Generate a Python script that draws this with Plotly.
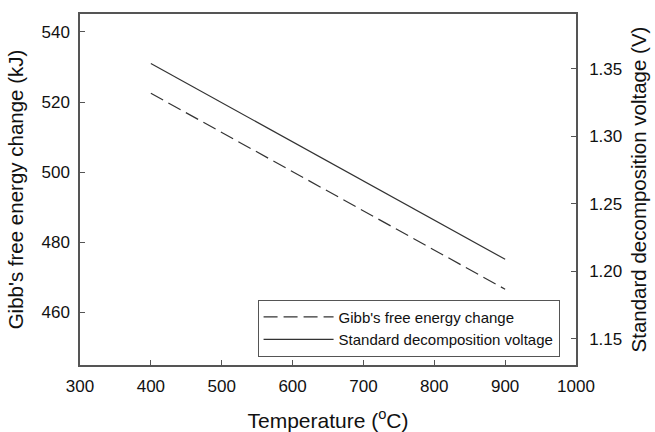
import plotly.graph_objects as go

temperature = [400, 500, 600, 700, 800, 900]
gibbs_kj = [522.5, 511.3, 500.1, 488.9, 477.8, 466.6]
voltage_v = [1.354, 1.325, 1.296, 1.267, 1.238, 1.209]

x_ticks = [300, 400, 500, 600, 700, 800, 900, 1000]
left_ticks = [460, 480, 500, 520, 540]
right_ticks = [1.15, 1.20, 1.25, 1.30, 1.35]
right_tick_text = ["1.15", "1.20", "1.25", "1.30", "1.35"]

font_family = "Liberation Sans, Arial, sans-serif"
axis_color = "#555555"
line_color = "#333333"

fig = go.Figure()
fig.add_trace(go.Scatter(
    x=temperature, y=gibbs_kj, mode="lines", name="Gibb's free energy change",
    line=dict(color=line_color, width=1.2, dash="14px,6px"), yaxis="y"))
fig.add_trace(go.Scatter(
    x=temperature, y=voltage_v, mode="lines", name="Standard decomposition voltage",
    line=dict(color=line_color, width=1.2), yaxis="y2"))

fig.update_layout(
    width=655, height=432,
    margin=dict(l=80, r=79, t=14, b=67),
    plot_bgcolor="white", paper_bgcolor="white",
    font=dict(family=font_family, size=17, color="#111111"),
    showlegend=True,
    legend=dict(
        x=0.358, y=0.024, xanchor="left", yanchor="bottom",
        bgcolor="white", bordercolor=axis_color, borderwidth=1,
        font=dict(size=15, family=font_family),
        tracegroupgap=0, itemwidth=70,
    ),
    xaxis=dict(
        range=[300, 1000], tickvals=x_ticks, ticks="inside", ticklen=5,
        tickcolor=axis_color, showline=True, linecolor=axis_color, linewidth=1.5,
        mirror=True, showgrid=False, zeroline=False, ticklabelstandoff=5,
        automargin=False,
        title=dict(text="Temperature (<sup>o</sup>C)", font=dict(size=21), standoff=26),
        tickfont=dict(size=17),
    ),
    yaxis=dict(
        range=[445, 545.1], tickvals=left_ticks, ticks="inside", ticklen=5,
        tickcolor=axis_color, showline=True, linecolor=axis_color, linewidth=1.5,
        showgrid=False, zeroline=False, ticklabelstandoff=5, automargin=False,
        title=dict(text="Gibb's free energy change (kJ)", font=dict(size=20.5), standoff=12),
        tickfont=dict(size=17),
    ),
    yaxis2=dict(
        range=[1.1307, 1.3907], tickvals=right_ticks, ticktext=right_tick_text,
        overlaying="y", side="right", ticks="inside", ticklen=5,
        tickcolor=axis_color, showline=True, linecolor=axis_color, linewidth=1.5,
        showgrid=False, zeroline=False, ticklabelstandoff=8, automargin=False,
        title=dict(text="Standard decomposition voltage (V)", font=dict(size=20.5), standoff=10),
        tickfont=dict(size=17),
    ),
)

fig.write_html("out.html")
